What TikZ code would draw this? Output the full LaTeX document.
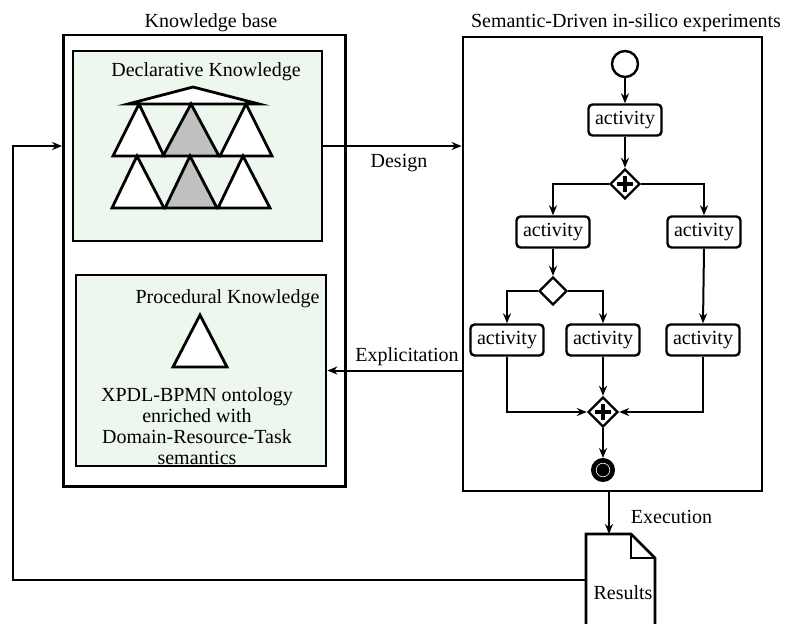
\documentclass[tikz,border=0pt]{standalone}
\usepackage{fontspec}
\setmainfont{Liberation Serif}
\usetikzlibrary{shapes.geometric, arrows.meta, calc}
\definecolor{kbgreen}{HTML}{EEF7EE}
\definecolor{kbgray}{HTML}{C0C0C0}
\tikzset{
  outerbox/.style = {rectangle, draw, line width=1.4pt, inner sep=0pt},
  knowbox/.style = {outerbox, fill=kbgreen},
  activity/.style = {rectangle, draw, fill=white, rounded corners=2pt, line width=1.2pt, minimum width=36.5pt, minimum height=15.5pt, inner sep=0pt},
  startev/.style = {circle, draw, line width=1.2pt, minimum size=13pt, inner sep=0pt},
  endev/.style = {circle, draw, fill=black, line width=1pt, minimum size=11pt, inner sep=0pt,
    path picture={\draw[white, line width=0.3pt] (path picture bounding box.center) circle (3.4pt);}},
  gateway/.style = {diamond, aspect=1, draw, fill=white, line width=1.2pt, minimum size=15pt, inner sep=0pt},
  plusgw/.style = {gateway, path picture={
    \draw[line width=2pt] ($(path picture bounding box.center)+(-4pt,0pt)$) -- ($(path picture bounding box.center)+(4pt,0pt)$);
    \draw[line width=2pt] ($(path picture bounding box.center)+(0pt,-4pt)$) -- ($(path picture bounding box.center)+(0pt,4pt)$);}},
  tri/.style = {draw, fill=white, line width=1.4pt, line join=miter},
  graytri/.style = {tri, fill=kbgray},
  flow/.style = {draw, line width=1pt, -{Stealth[length=5pt,width=4pt]}},
  lbl/.style = {inner sep=0pt}
}
\begin{document}
\begin{tikzpicture}[x=0.5pt, y=-0.5pt, font=\fontsize{10}{10.5}\selectfont]
    \useasboundingbox (0,0) rectangle (787,623);
    \node[outerbox, minimum width=141pt, minimum height=225.75pt] (kb) at (204.5,260.75) {};
    \node[outerbox, minimum width=149.5pt, minimum height=227pt] (exp) at (612.5,264) {};
    \node[knowbox, minimum width=124.5pt, minimum height=95pt] (decl) at (197.5,146) {};
    \node[knowbox, minimum width=125pt, minimum height=95.5pt] (proc) at (201,370.5) {};
    \node[lbl] (kbtitle) at (211,23) {Knowledge base};
    \node[lbl] (exptitle) at (626,23) {Semantic-Driven in-silico experiments};
    \node[lbl] (decltitle) at (206,72) {Declarative Knowledge};
    \node[lbl] (proctitle) at (227.5,299) {Procedural Knowledge};
    \node[lbl, align=center] (proctext) at (197,426.5) {XPDL-BPMN ontology\\enriched with\\Domain-Resource-Task\\semantics};

    \draw[tri] (128,104) -- (193,87) -- (259,104) -- cycle;
    \draw[tri] (113,156) -- (139,104) -- (164,156) -- cycle;
    \draw[graytri] (163,156) -- (191,104) -- (219,156) -- cycle;
    \draw[tri] (220,156) -- (246,104) -- (272,156) -- cycle;
    \draw[tri] (112,208) -- (137,156) -- (164,208) -- cycle;
    \draw[graytri] (165,208) -- (190,156) -- (217,208) -- cycle;
    \draw[tri] (218,208) -- (243,156) -- (270,208) -- cycle;
    \draw[tri] (173,367) -- (200,315) -- (227,367) -- cycle;

    \node[startev] (start) at (625,64) {};
    \node[activity] (a0) at (625,120) {activity};
    \node[plusgw] (g1) at (625,184) {};
    \node[activity] (a1) at (553,232) {activity};
    \node[activity] (a2) at (704,232) {activity};
    \node[gateway, minimum size=14pt] (g2) at (553,291) {};
    \node[activity] (a3) at (507,340) {activity};
    \node[activity] (a4) at (603,340) {activity};
    \node[activity] (a5) at (703,340) {activity};
    \node[plusgw] (g3) at (603,412) {};
    \node[endev] (end) at (603,470) {};

    \draw[flow] (start) -- (a0);
    \draw[flow] (a0) -- (g1);
    \draw[flow] (g1.west) -| (a1);
    \draw[flow] (g1.east) -| (a2);
    \draw[flow] (a1) -- (g2);
    \draw[flow] (g2.west) -| (a3);
    \draw[flow] (g2.east) -| (a4);
    \draw[flow] (a2.south) -- (a5.north);
    \draw[flow] (a3) |- (g3);
    \draw[flow] (a5) |- (g3);
    \draw[flow] (a4) -- (g3);
    \draw[flow] (g3) -- (end);

    \coordinate (doctl) at (586,534);
    \coordinate (docfold) at (631,534);
    \coordinate (doctr) at (655,558);
    \coordinate (resin) at (609,534);
    \coordinate (docout) at (586,580);
    \coordinate (fbturn) at (13,580);
    \draw[line width=1.3pt, line join=miter] (586,640) -- (doctl) -- (docfold) -- (doctr) -- (655,640);
    \draw[line width=1.3pt, line join=miter] (docfold) |- (doctr);
    \node[lbl] (res) at (623,593) {Results};

    \draw[flow] (decl.east) -- (decl.east -| exp.west);
    \node[lbl] (design) at (399,163) {Design};
    \draw[flow] (proc.east -| exp.west) -- (proc.east);
    \node[lbl] (explic) at (407,357) {Explicitation};
    \draw[flow] (exp.south -| resin) -- (resin);
    \node[lbl] (exec) at (671.5,517) {Execution};
    \draw[flow] (docout) -- (fbturn) |- (kb.west |- decl.east);
\end{tikzpicture}
\end{document}
